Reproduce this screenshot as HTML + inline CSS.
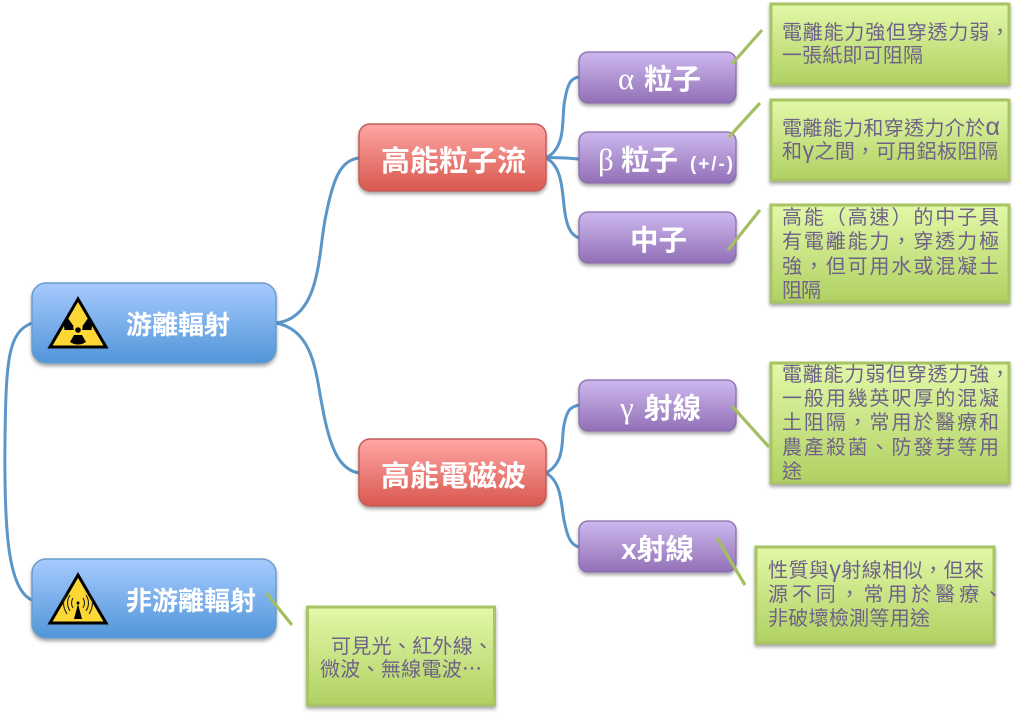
<!DOCTYPE html>
<html lang="zh-Hant"><head><meta charset="utf-8">
<style>
html,body{margin:0;padding:0;background:#fff;width:1024px;height:713px;overflow:hidden}
svg{display:block}
text{font-family:"Liberation Sans","Noto Sans CJK TC",sans-serif}
.n{fill:#fff;font-weight:700;text-anchor:start}
.gk{font-family:"Liberation Serif",serif;font-weight:400}
.t{fill:#6f6288;font-size:20px}
</style></head>
<body>
<svg width="1024" height="713" viewBox="0 0 1024 713" xmlns="http://www.w3.org/2000/svg" lang="zh-Hant">
<defs>
<linearGradient id="b" x1="0" y1="0" x2="0" y2="1"><stop offset="0" stop-color="#a6caff"/><stop offset="1" stop-color="#5195d8"/></linearGradient>
<linearGradient id="r" x1="0" y1="0" x2="0" y2="1"><stop offset="0" stop-color="#ffa6a4"/><stop offset="1" stop-color="#d8584f"/></linearGradient>
<linearGradient id="p" x1="0" y1="0" x2="0" y2="1"><stop offset="0" stop-color="#cdb8ee"/><stop offset="1" stop-color="#9270b6"/></linearGradient>
<linearGradient id="g" x1="0" y1="0" x2="0" y2="1"><stop offset="0" stop-color="#e2f9a8"/><stop offset="1" stop-color="#b0d062"/></linearGradient>
<filter id="s" x="-10%" y="-15%" width="120%" height="135%"><feDropShadow dx="0" dy="2.5" stdDeviation="1.8" flood-color="#000" flood-opacity=".35"/></filter>
<g id="tri"><path d="M30 3 L58 51 L2 51 Z" fill="#fdd835" stroke="#000" stroke-width="3" stroke-linejoin="miter"/></g>
</defs>

<!-- connectors -->
<g fill="none" stroke="#5b96c9" stroke-width="3">
<path d="M32 323 C8 332 6 360 5 440 C4 530 8 590 32 600"/>
<path d="M276 323 C322 318 318 250 326 215 C333 180 340 160 359 158"/>
<path d="M276 323 C314 330 316 375 322 405 C330 450 340 470 359 473"/>
<path d="M546 158 C566 148 562 120 564 105 C567 85 570 78 579 77"/>
<path d="M546 158 C555 157 565 158 579 159"/>
<path d="M546 158 C562 166 562 190 564 205 C566 225 570 235 579 238"/>
<path d="M546 473 C566 462 561 440 564 425 C567 410 570 407 579 405"/>
<path d="M546 473 C562 482 561 505 564 520 C567 535 570 545 579 547"/>
</g>

<!-- blue -->
<rect x="32" y="283" width="244" height="80" rx="14" fill="url(#b)" stroke="#6a9ccb" stroke-width="1.5" filter="url(#s)"/>
<rect x="32" y="559" width="244" height="79" rx="14" fill="url(#b)" stroke="#6a9ccb" stroke-width="1.5" filter="url(#s)"/>
<!-- red -->
<rect x="359" y="124" width="187" height="67" rx="11" fill="url(#r)" stroke="#c25c58" stroke-width="1.5" filter="url(#s)"/>
<rect x="359" y="439" width="187" height="67" rx="11" fill="url(#r)" stroke="#c25c58" stroke-width="1.5" filter="url(#s)"/>
<!-- purple -->
<rect x="579" y="52" width="157" height="51" rx="9" fill="url(#p)" stroke="#8a6cab" stroke-width="1.3" filter="url(#s)"/>
<rect x="579" y="132" width="157" height="51" rx="9" fill="url(#p)" stroke="#8a6cab" stroke-width="1.3" filter="url(#s)"/>
<rect x="579" y="212" width="157" height="51" rx="9" fill="url(#p)" stroke="#8a6cab" stroke-width="1.3" filter="url(#s)"/>
<rect x="579" y="380" width="157" height="51" rx="9" fill="url(#p)" stroke="#8a6cab" stroke-width="1.3" filter="url(#s)"/>
<rect x="579" y="521" width="157" height="51" rx="9" fill="url(#p)" stroke="#8a6cab" stroke-width="1.3" filter="url(#s)"/>
<!-- green -->
<g stroke="#a8c465" stroke-width="3" fill="url(#g)" filter="url(#s)">
<rect x="771" y="4" width="238" height="80"/>
<rect x="771" y="100" width="238" height="80"/>
<rect x="771" y="205" width="238" height="97"/>
<rect x="771" y="363" width="238" height="120"/>
<rect x="756" y="547" width="238" height="96"/>
<rect x="307.500" y="607" width="187" height="98"/>
</g>
<!-- callout lines -->
<g stroke="#a3bf62" stroke-width="3.200" fill="none">
<line x1="732" y1="64" x2="762" y2="30"/>
<line x1="729" y1="137" x2="760" y2="103"/>
<line x1="728" y1="250" x2="760" y2="210"/>
<line x1="732" y1="406" x2="769" y2="447"/>
<line x1="717" y1="538" x2="745" y2="585"/>
<line x1="266" y1="593" x2="292" y2="625"/>
</g>

<!-- hazard icons -->
<g transform="translate(48,296)">
<use href="#tri"/>
<circle cx="30" cy="34" r="2.800" fill="#000"/>
<g fill="#000">
<path d="M25.500 30 L19.500 21.500 A 14 14 0 0 0 16.500 34 L26 34 A 5 5 0 0 1 25.500 30 Z"/>
<path d="M34.500 30 L40.500 21.500 A 14 14 0 0 1 43.500 34 L34 34 A 5 5 0 0 0 34.500 30 Z"/>
<path d="M26 39 L34 39 L38 46 A 14 14 0 0 1 22 46 Z"/>
</g>
</g>
<g transform="translate(48,572)">
<use href="#tri"/>
<g fill="none" stroke="#222" stroke-width="1.100">
<path d="M25 26 Q22 31 25 36"/><path d="M35 26 Q38 31 35 36"/>
<path d="M22 23 Q17 31 22 39"/><path d="M38 23 Q43 31 38 39"/>
<path d="M19 20 Q12 31 19 42"/><path d="M41 20 Q48 31 41 42"/>
</g>
<circle cx="30" cy="31" r="1.500" fill="#000"/>
<path d="M30 32 L34 47 L26 47 Z" fill="#000"/>
</g>

<!-- node labels -->
<text class="n" x="126" y="334" font-size="26">游離輻射</text>
<text class="n" x="126" y="610" font-size="26">非游離輻射</text>
<text class="n" x="381" y="171" font-size="29">高能粒子流</text>
<text class="n" x="381" y="486" font-size="29">高能電磁波</text>
<text class="n" x="618" y="89" font-size="28.500"><tspan class="gk" font-size="31">α</tspan><tspan x="644">粒子</tspan></text>
<text class="n" x="598" y="170" font-size="28.500"><tspan class="gk" font-size="31">β</tspan><tspan x="621">粒子</tspan></text>
<text class="n" x="690" y="170" font-size="19" textLength="43" lengthAdjust="spacing">(+/-)</text>
<text class="n" x="630" y="250" font-size="28.500">中子</text>
<text class="n" x="620" y="418" font-size="28.500"><tspan class="gk" font-size="31">γ</tspan><tspan x="644">射線</tspan></text>
<text class="n" x="621" y="559" font-size="28.500">x射線</text>

<!-- notes -->
<g class="t">
<text class="t" x="782" y="39" textLength="228" lengthAdjust="spacing">電離能力強但穿透力弱，</text>
<text class="t" x="782" y="62" textLength="141" lengthAdjust="spacing">一張紙即可阻隔</text>
<text class="t" x="782" y="135" textLength="218" lengthAdjust="spacing">電離能力和穿透力介於<tspan font-size="25">α</tspan></text>
<text class="t" x="782" y="158" textLength="216" lengthAdjust="spacing">和<tspan font-size="23">γ</tspan>之間，可用鋁板阻隔</text>
<text class="t" x="782" y="224" textLength="217" lengthAdjust="spacing">高能（高速）的中子具</text>
<text class="t" x="782" y="248" textLength="217" lengthAdjust="spacing">有電離能力，穿透力極</text>
<text class="t" x="782" y="273" textLength="217" lengthAdjust="spacing">強，但可用水或混凝土</text>
<text class="t" x="782" y="297" textLength="39" lengthAdjust="spacing">阻隔</text>
<text class="t" x="782" y="381" textLength="228" lengthAdjust="spacing">電離能力弱但穿透力強，</text>
<text class="t" x="782" y="405" textLength="217" lengthAdjust="spacing">一般用幾英呎厚的混凝</text>
<text class="t" x="782" y="429" textLength="217" lengthAdjust="spacing">土阻隔，常用於醫療和</text>
<text class="t" x="782" y="454" textLength="217" lengthAdjust="spacing">農產殺菌、防發芽等用</text>
<text class="t" x="782" y="478">途</text>
<text class="t" x="768" y="577" textLength="216" lengthAdjust="spacing">性質與<tspan font-size="23">γ</tspan>射線相似，但來</text>
<text class="t" x="768" y="601" textLength="235" lengthAdjust="spacing">源不同，常用於醫療、</text>
<text class="t" x="768" y="625" textLength="162" lengthAdjust="spacing">非破壞檢測等用途</text>
<text class="t" x="331" y="653" textLength="162" lengthAdjust="spacing">可見光、紅外線、</text>
<text class="t" x="320" y="676" textLength="162" lengthAdjust="spacing">微波、無線電波⋯</text>
</g>
</svg>
</body></html>
